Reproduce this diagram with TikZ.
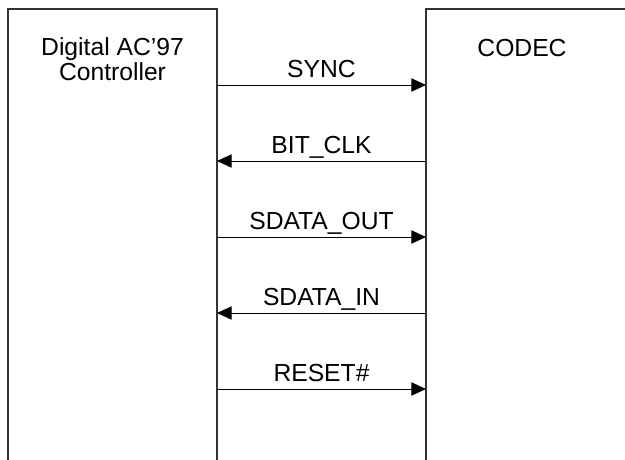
\documentclass[tikz,border=0pt]{standalone}
\usepackage{fontspec}
\setmainfont{Liberation Sans}
\usetikzlibrary{arrows.meta}

\tikzset{
  block/.style={draw=black!80,line width=0.8pt},
  title/.style={align=center,anchor=base,font=\fontsize{18.5}{18}\selectfont},
  sig/.style={line width=0.7pt},
  siglabel/.style={anchor=base,yshift=5.5pt,font=\fontsize{18.5}{20.5}\selectfont}
}

\begin{document}
\begin{tikzpicture}[x=0.75pt,y=-0.75pt,>={Triangle[length=11pt,width=10pt]}]
    \useasboundingbox (0,0) rectangle (625,460);
    % the two blocks, open at the bottom
    \draw[block] (8,470) -- (8,9) -- (217,9) -- (217,470);
    \draw[block] (426,470) -- (426,9) -- (640,9);
    \node[title] (ctrl) at (112.5,80) {Digital AC'97\\Controller};
    \node[title] (codec) at (522,57) {CODEC};
    % signals
    \foreach \i/\y/\dir/\txt in {1/85/->/SYNC, 2/161/<-/BIT\_CLK, 3/237/->/SDATA\_OUT,
                                 4/313/<-/SDATA\_IN, 5/389/->/RESET\#} {
      \coordinate (l\i) at (217,\y);
      \coordinate (r\i) at (426,\y);
      \draw[sig,\dir] (l\i) -- node[siglabel] (s\i) {\txt} (r\i);
    }
\end{tikzpicture}
\end{document}
